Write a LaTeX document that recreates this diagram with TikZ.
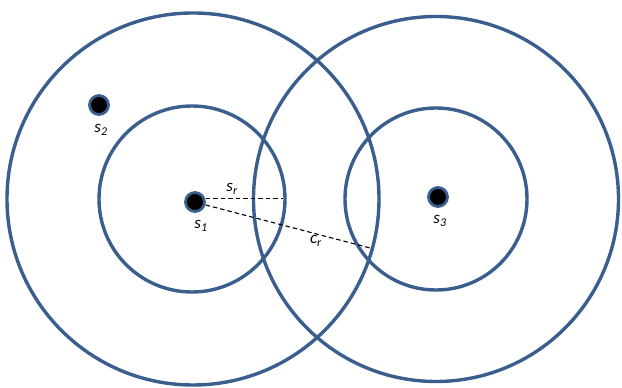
\documentclass[tikz,border=0pt]{standalone}
\usepackage{fontspec}
\setmainfont{Carlito}
\definecolor{ringblue}{HTML}{3A5F8F}
\tikzset{
  ring/.style={draw=ringblue, line width=3.4pt},
  sensor/.style={circle, fill=black, draw=ringblue, line width=2.8pt, minimum size=19pt, inner sep=0pt},
  lbl/.style={font=\fontsize{17}{20}\selectfont\itshape, inner sep=1pt},
  dline/.style={draw=black, line width=1.1pt, dash pattern=on 4.5pt off 3pt}
}
\newcommand{\lab}[2]{#1\textsubscript{#2}}
\begin{document}
\begin{tikzpicture}[x=1pt,y=1pt]
\useasboundingbox (0,0) rectangle (622,388);
% circles
\draw[ring] (193,189) circle (186);
\draw[ring] (192,189) circle (93);
\draw[ring] (436,189) circle (182.5);
\draw[ring] (436,189) circle (91);
% sensors
\node[sensor] (s1) at (195,186) {};
\node[sensor] (s2) at (99,283) {};
\node[sensor] (s3) at (438,191) {};
% labels
\node[lbl] (l1) at (201,162) {\lab{s}{1}};
\node[lbl] (l2) at (101,258) {\lab{s}{2}};
\node[lbl] (l3) at (440,167) {\lab{s}{3}};
\node[lbl] (lsr) at (232,199) {\lab{s}{r}};
\node[lbl] (lcr) at (316,147) {\lab{c}{r}};
% radii
\coordinate (srend) at (283,189.5);
\coordinate (crend) at (372,139.5);
\draw[dline] (s1.east |- srend) -- (srend);
\draw[dline] (s1) ++(-15.5:11) -- (crend);
\end{tikzpicture}
\end{document}
